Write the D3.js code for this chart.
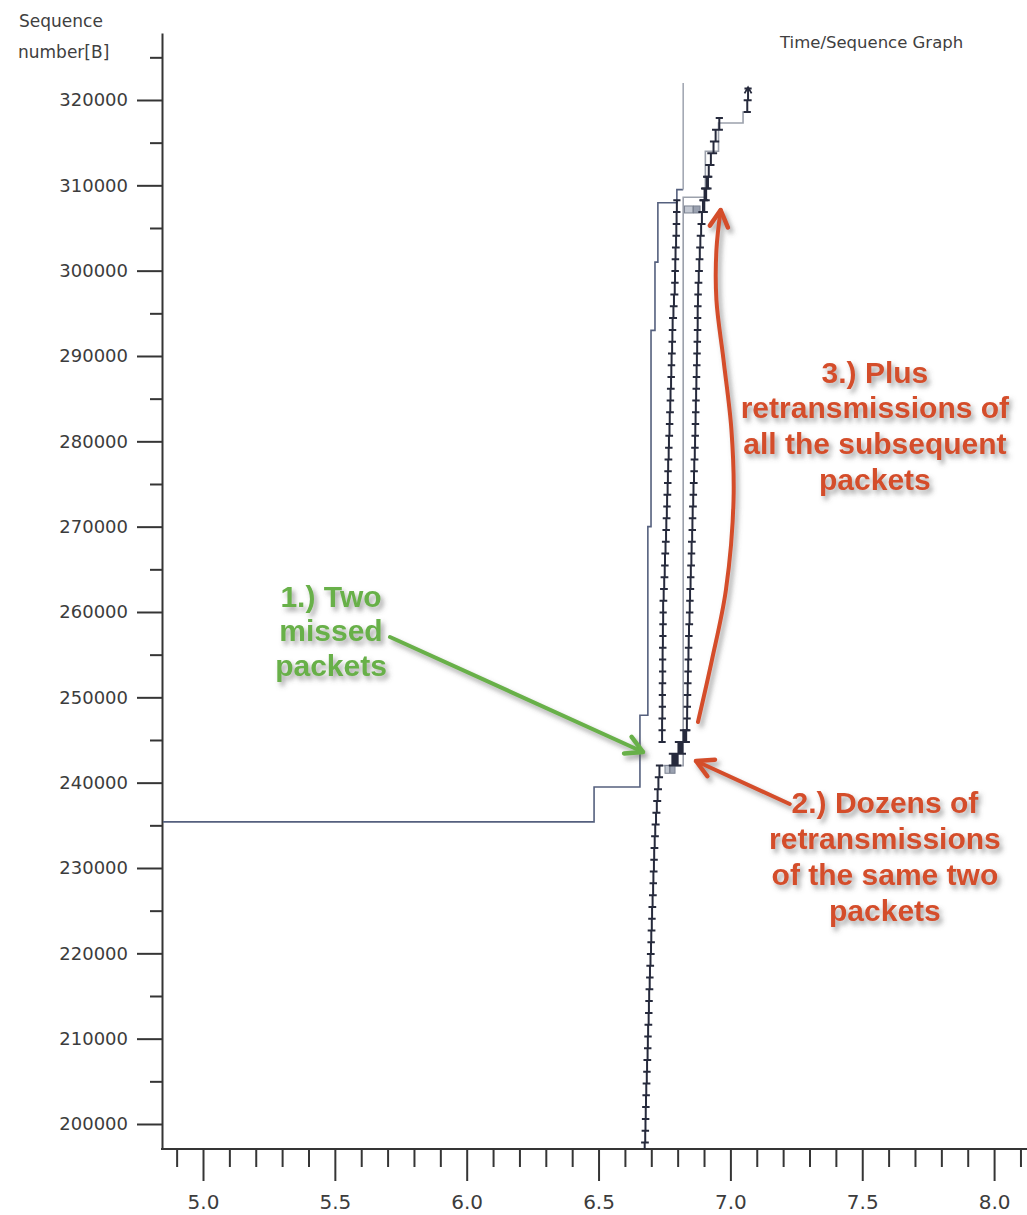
<!DOCTYPE html>
<html><head><meta charset="utf-8">
<script src="https://cdn.jsdelivr.net/npm/d3@7"></script>
<style>
html,body{margin:0;padding:0;background:#fff;}
svg{display:block;}
</style></head><body>
<svg id="chart" width="1027" height="1215"></svg>
<script>
// ---------------- DATA ----------------
const SEG_LEN = 1380;
const xMajorTicks = [5.0, 5.5, 6.0, 6.5, 7.0, 7.5, 8.0];
const xMinorTicks = [4.9, 5.1, 5.2, 5.3, 5.4, 5.6, 5.7, 5.8, 5.9, 6.1, 6.2, 6.3, 6.4, 6.6, 6.7, 6.8, 6.9, 7.1, 7.2, 7.3, 7.4, 7.6, 7.7, 7.8, 7.9, 8.1];
const yMajorTicks = [200000, 210000, 220000, 230000, 240000, 250000, 260000, 270000, 280000, 290000, 300000, 310000, 320000];
const yMinorTicks = [205000, 215000, 225000, 235000, 245000, 255000, 265000, 275000, 285000, 295000, 305000, 315000, 325000];

// first burst of data packets
const firstRunSeqs = [196460,197840,199220,200600,201980,203360,204740,206120,207500,208880,210260,211640,213020,214400,215780,217160,218540,219920,221300,222680,224060,225440,226820,228200,229580,230960,232340,233720,235100,236480,237860,239240,240620];
const firstRunTimes = [6.675,6.677,6.678,6.679,6.680,6.681,6.683,6.684,6.686,6.687,6.688,6.690,6.691,6.692,6.694,6.695,6.697,6.699,6.700,6.702,6.703,6.705,6.707,6.708,6.710,6.711,6.713,6.715,6.718,6.721,6.724,6.727,6.731];

// new data sent after the two missed packets
const newDataSeqs = [244760,246140,247520,248900,250280,251660,253040,254420,255800,257180,258560,259940,261320,262700,264080,265460,266840,268220,269600,270980,272360,273740,275120,276500,277880,279260,280640,282020,283400,284780,286160,287540,288920,290300,291680,293060,294440,295820,297200,298580,299960,301340,302720,304100,305480,306860];
const newDataTimes = [6.741,6.741,6.742,6.742,6.742,6.743,6.743,6.743,6.744,6.744,6.745,6.745,6.747,6.749,6.751,6.752,6.754,6.756,6.757,6.759,6.760,6.762,6.763,6.764,6.766,6.767,6.769,6.770,6.772,6.773,6.775,6.776,6.777,6.779,6.780,6.781,6.784,6.786,6.789,6.790,6.791,6.792,6.794,6.795,6.796,6.797];

// dozens of retransmissions of the same two packets
const dupRetxSeqs = [242000,242000,242000,242000,242000,242000,243380,243380,243380,243380,243380,244760,244760,244760,244760];
const dupRetxTimes = [6.780,6.784,6.788,6.792,6.796,6.800,6.803,6.807,6.811,6.815,6.818,6.822,6.826,6.829,6.832];

// retransmissions of all subsequent packets
const retxSeqs = [244760,246140,247520,248900,250280,251660,253040,254420,255800,257180,258560,259940,261320,262700,264080,265460,266840,268220,269600,270980,272360,273740,275120,276500,277880,279260,280640,282020,283400,284780,286160,287540,288920,290300,291680,293060,294440,295820,297200,298580,299960,301340,302720,304100,305480,306860,308240,309620,311000,312380,313760,315140,316520];
const retxTimes = [6.832,6.835,6.836,6.837,6.838,6.839,6.840,6.841,6.842,6.843,6.845,6.846,6.847,6.849,6.850,6.852,6.853,6.855,6.856,6.857,6.859,6.860,6.862,6.863,6.865,6.866,6.867,6.868,6.869,6.870,6.871,6.872,6.873,6.874,6.875,6.876,6.876,6.877,6.878,6.880,6.882,6.884,6.886,6.889,6.892,6.896,6.902,6.910,6.918,6.926,6.936,6.944,6.958];

// extra retransmissions near the top of the burst
const topRetxSeqs = [306860,306860,308240,308240,309620,309620];
const topRetxTimes = [6.898,6.901,6.905,6.908,6.912,6.915];

// new data at the end
const tailSeqs = [318600,319980];
const tailTimes = [7.064,7.067];

// receive window line and ACK line  [time, seq]
const windowLine = [[4.84,235400],[6.483,235400],[6.483,239500],[6.657,239500],[6.657,247900],[6.687,247900],[6.687,270000],[6.699,270000],[6.699,293000],[6.714,293000],[6.714,301000],[6.725,301000],[6.725,307950],[6.797,307950],[6.797,309500],[6.821,309500]];
const windowJump = [[6.821,309500],[6.821,322000]];
const ackLine = [[6.733,242000],[6.821,242000],[6.821,308600],[6.905,308600],[6.905,314000],[6.955,314000],[6.955,317300],[7.048,317300],[7.048,318600],[7.067,318600]];

// SACK-like grey boxes [t0, t1, s0, s1]
const sackBoxes = [[6.752,6.769,241100,242000],[6.772,6.790,241100,242000],[6.826,6.858,306760,307580],[6.860,6.885,306760,307580]];

// annotations
const noteGreen = ["1.) Two", "missed", "packets"];
const noteRed2 = ["2.) Dozens of", "retransmissions", "of the same two", "packets"];
const noteRed3 = ["3.) Plus", "retransmissions of", "all the subsequent", "packets"];
const noteGreenAnchor = [5.4854, 261875];
const noteRed2Anchor = [7.586, 237734];
const noteRed3Anchor = [7.548, 288125];
const greenArrow = [[5.709, 257070],[6.6686, 243594]];
const red2Arrow = [[7.225, 237500],[6.8696, 242539]];
const red3Arrow = [[6.877,247109],[6.930,254375],[6.983,262578],[7.012,273125],[7.004,281328],[6.974,289531],[6.947,296563],[6.947,302422],[6.963,307109]];

// ---------------- CHART ----------------
const W = 1027, H = 1215;
const svg = d3.select("#chart");
const x = d3.scaleLinear().domain([4.8483, 8.1248]).range([163, 1027]);
const y = d3.scaleLinear().domain([197070, 327850]).range([1149, 33]);

const defs = svg.append("defs");
defs.append("clipPath").attr("id","plotclip").append("rect")
  .attr("x", x.range()[0]).attr("y", y.range()[1])
  .attr("width", x.range()[1]-x.range()[0]).attr("height", y.range()[0]-y.range()[1]);
const f = defs.append("filter").attr("id","shadow").attr("x","-30%").attr("y","-30%").attr("width","160%").attr("height","160%");
f.append("feDropShadow").attr("dx",3).attr("dy",4).attr("stdDeviation",2.6)
  .attr("flood-color","#555").attr("flood-opacity",0.55);

svg.append("rect").attr("width",W).attr("height",H).attr("fill","#fff");

const FONT = "'DejaVu Sans', Verdana, sans-serif";

// axes
const axisColor = "#353535";
const yAxisG = svg.append("g").attr("transform",`translate(${x.range()[0]-1},0)`)
  .call(d3.axisLeft(y).tickValues(yMajorTicks).tickSize(25).tickSizeOuter(0).tickPadding(9).tickFormat(d3.format("d")));
svg.append("g").attr("transform",`translate(${x.range()[0]-1},0)`)
  .call(d3.axisLeft(y).tickValues(yMinorTicks).tickSize(12).tickSizeOuter(0).tickFormat(""))
  .select(".domain").remove();
const xAxisG = svg.append("g").attr("transform",`translate(0,${y.range()[0]})`)
  .call(d3.axisBottom(x).tickValues(xMajorTicks).tickSize(32).tickSizeOuter(0).tickPadding(14).tickFormat(d3.format(".1f")));
xAxisG.select(".domain").attr("d", `M${x.range()[0]-2},0H${W}`);
svg.append("g").attr("transform",`translate(0,${y.range()[0]})`)
  .call(d3.axisBottom(x).tickValues(xMinorTicks).tickSize(18).tickSizeOuter(0).tickFormat(""))
  .select(".domain").remove();
svg.selectAll(".domain, .tick line").attr("stroke", axisColor).attr("stroke-width", 2);
yAxisG.selectAll(".tick text").attr("font-family", FONT).attr("font-size", 18).attr("fill", "#3c3c3c");
xAxisG.selectAll(".tick text").attr("font-family", FONT).attr("font-size", 20).attr("fill", "#3c3c3c");

// axis titles
svg.append("text").attr("x", 19).attr("y", 27).text("Sequence")
  .attr("font-family", FONT).attr("font-size", 17).attr("fill", "#404040");
svg.append("text").attr("x", 18).attr("y", 58).text("number[B]")
  .attr("font-family", FONT).attr("font-size", 17).attr("fill", "#404040");
svg.append("text").attr("x", 780).attr("y", 48).text("Time/Sequence Graph")
  .attr("font-family", FONT).attr("font-size", 16.5).attr("fill", "#404040");

// plot content
const plot = svg.append("g").attr("clip-path","url(#plotclip)");

const lineGen = d3.line().x(d => x(d[0])).y(d => y(d[1]));
plot.append("path").attr("d", lineGen(windowLine)).attr("fill","none")
  .attr("stroke","#55607e").attr("stroke-width",1.6);
plot.append("path").attr("d", lineGen(windowJump)).attr("fill","none")
  .attr("stroke","#a4a9b4").attr("stroke-width",1.6);
plot.append("path").attr("d", lineGen(ackLine)).attr("fill","none")
  .attr("stroke","#9ca1ac").attr("stroke-width",1.6);

plot.selectAll("rect.sack").data(sackBoxes).join("rect").attr("class","sack")
  .attr("x", d => x(d[0])).attr("width", d => x(d[1]) - x(d[0]))
  .attr("y", d => y(d[3])).attr("height", d => y(d[2]) - y(d[3]))
  .attr("fill", (d,i) => i % 2 ? "#9aa1b0" : "#c3c8d2").attr("stroke","#7b8291").attr("stroke-width",1);

function packetPath(times, seqs) {
  const cap = 3.6;
  let p = "";
  times.forEach((t, i) => {
    const px = x(t), y0 = y(seqs[i]), y1 = y(seqs[i] + SEG_LEN);
    p += `M${px},${y0}V${y1}`;
    p += `M${px-cap},${y0}H${px+cap}M${px-cap},${y1}H${px+cap}`;
  });
  return p;
}
const pktColor = "#262a3c";
[[firstRunTimes, firstRunSeqs],[newDataTimes, newDataSeqs],[retxTimes, retxSeqs],
 [dupRetxTimes, dupRetxSeqs],[topRetxTimes, topRetxSeqs],[tailTimes, tailSeqs]].forEach(([t, s]) => {
  plot.append("path").attr("d", packetPath(t, s)).attr("fill","none")
    .attr("stroke", pktColor).attr("stroke-width", 2);
});
// push arrow on the last packet
{
  const lt = tailTimes[tailTimes.length-1], ls = tailSeqs[tailSeqs.length-1] + SEG_LEN;
  plot.append("path").attr("d", `M${x(lt)-3.5},${y(ls)+5}L${x(lt)},${y(ls)-1}L${x(lt)+3.5},${y(ls)+5}`)
    .attr("fill","none").attr("stroke",pktColor).attr("stroke-width",1.8);
}

// annotations
const ann = svg.append("g");
function arrowHead(g, tip, from, color) {
  const a = Math.atan2(tip[1]-from[1], tip[0]-from[0]);
  const L = 19, s = 0.5;
  const p1 = [tip[0] - L*Math.cos(a - s), tip[1] - L*Math.sin(a - s)];
  const p2 = [tip[0] - L*Math.cos(a + s), tip[1] - L*Math.sin(a + s)];
  g.append("path").attr("d", `M${p1}L${tip}L${p2}`).attr("fill","none")
    .attr("stroke", color).attr("stroke-width", 4.5).attr("stroke-linejoin","round").attr("stroke-linecap","round");
}
function straightArrow(pts, color) {
  const g = ann.append("g").attr("filter","url(#shadow)");
  const a = [x(pts[0][0]), y(pts[0][1])], b = [x(pts[1][0]), y(pts[1][1])];
  g.append("path").attr("d", `M${a}L${b}`).attr("stroke", color).attr("stroke-width", 4).attr("stroke-linecap","round");
  arrowHead(g, b, a, color);
}
const GREEN = "#68b048", RED = "#d44e2c";
straightArrow(greenArrow, GREEN);
straightArrow(red2Arrow, RED);
{
  const g = ann.append("g").attr("filter","url(#shadow)");
  const pts = red3Arrow.map(d => [x(d[0]), y(d[1])]);
  g.append("path").attr("d", d3.line().curve(d3.curveCatmullRom)(pts)).attr("fill","none")
    .attr("stroke", RED).attr("stroke-width", 4).attr("stroke-linecap","round");
  arrowHead(g, pts[pts.length-1], pts[pts.length-2], RED);
}

function note(lines, anchor, color, lh) {
  const t = ann.append("text").attr("x", x(anchor[0])).attr("y", y(anchor[1]))
    .attr("text-anchor","middle").attr("font-family","'Liberation Sans', Arial, sans-serif")
    .attr("font-weight","bold").attr("font-size", 30).attr("fill", color).attr("filter","url(#shadow)");
  lines.forEach((l, i) => t.append("tspan").attr("x", x(anchor[0])).attr("dy", i === 0 ? "0.36em" : lh).text(l));
}
note(noteGreen, noteGreenAnchor, GREEN, 34.5);
note(noteRed3, noteRed3Anchor, RED, 35.7);
note(noteRed2, noteRed2Anchor, RED, 36);
</script>
</body></html>
